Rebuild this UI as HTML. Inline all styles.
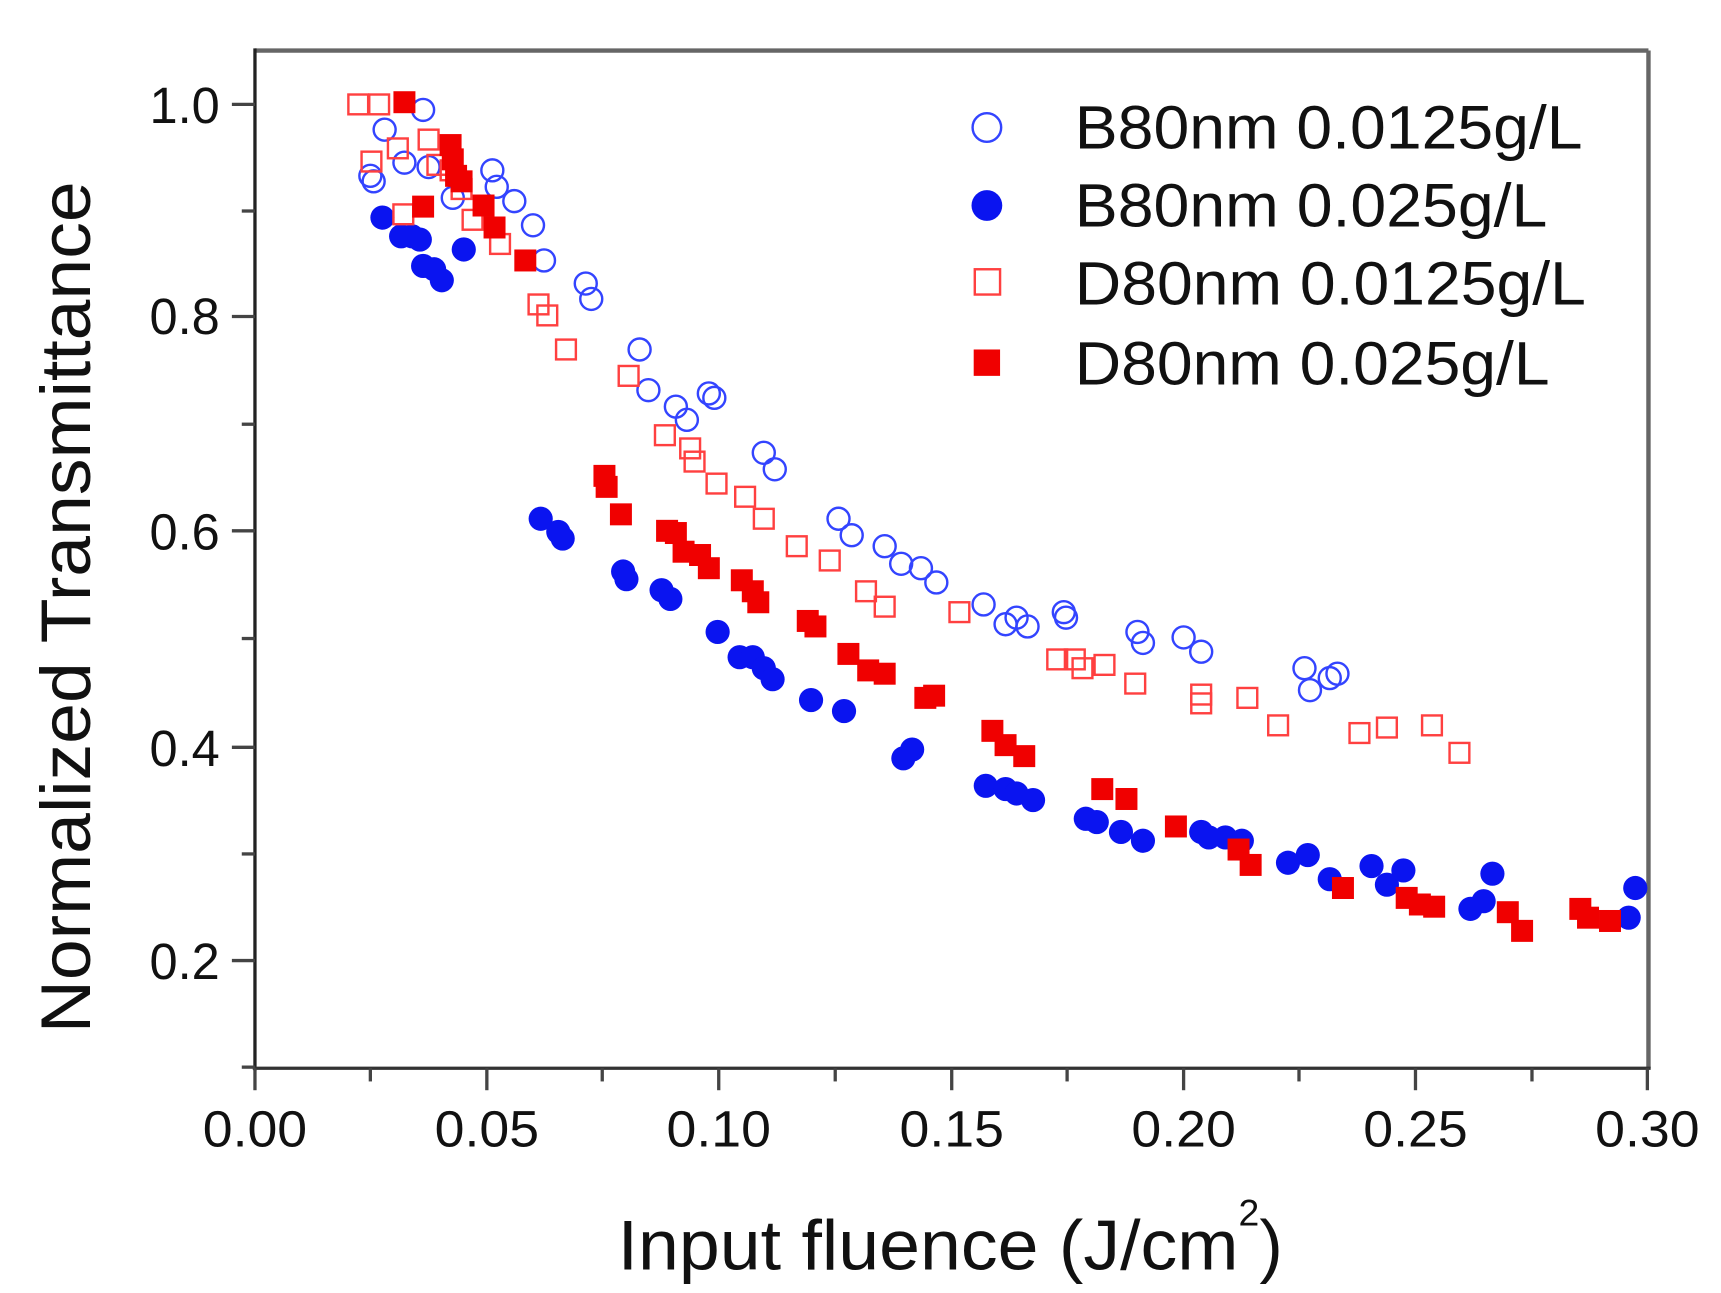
<!DOCTYPE html>
<html><head><meta charset="utf-8"><style>html,body{margin:0;padding:0;background:#fff}svg{display:block}</style></head>
<body>
<svg width="1721" height="1293" viewBox="0 0 1566 1176.5" preserveAspectRatio="none" xmlns="http://www.w3.org/2000/svg" font-family="Liberation Sans, Arial, sans-serif">
<rect width="1566" height="1176.5" fill="#fff"/>
<line x1="232" y1="46" x2="1500" y2="46" stroke="#666" stroke-width="4"/>
<line x1="1500" y1="46" x2="1500" y2="972" stroke="#666" stroke-width="4"/>
<line x1="232" y1="44" x2="232" y2="974" stroke="#222" stroke-width="3"/>
<line x1="230" y1="972" x2="1502" y2="972" stroke="#333" stroke-width="3"/>
<g stroke="#444" stroke-width="3">
<line x1="211" y1="95" x2="232" y2="95"/><line x1="211" y1="288" x2="232" y2="288"/><line x1="211" y1="483" x2="232" y2="483"/><line x1="211" y1="680" x2="232" y2="680"/><line x1="211" y1="874" x2="232" y2="874"/>
<line x1="220" y1="192" x2="232" y2="192"/><line x1="220" y1="386" x2="232" y2="386"/><line x1="220" y1="581" x2="232" y2="581"/><line x1="220" y1="777" x2="232" y2="777"/><line x1="220" y1="971" x2="232" y2="971"/>
<line x1="232" y1="972" x2="232" y2="992"/><line x1="443" y1="972" x2="443" y2="992"/><line x1="654" y1="972" x2="654" y2="992"/><line x1="866" y1="972" x2="866" y2="992"/><line x1="1077" y1="972" x2="1077" y2="992"/><line x1="1288" y1="972" x2="1288" y2="992"/><line x1="1499" y1="972" x2="1499" y2="992"/>
<line x1="337" y1="972" x2="337" y2="984"/><line x1="548" y1="972" x2="548" y2="984"/><line x1="760" y1="972" x2="760" y2="984"/><line x1="971" y1="972" x2="971" y2="984"/><line x1="1182" y1="972" x2="1182" y2="984"/><line x1="1394" y1="972" x2="1394" y2="984"/>
</g>
<g font-size="46" fill="#111" text-anchor="end">
<text x="200" y="112">1.0</text><text x="200" y="304">0.8</text><text x="200" y="500">0.6</text><text x="200" y="697">0.4</text><text x="200" y="891">0.2</text>
</g>
<g font-size="46" fill="#111" text-anchor="middle">
<text x="232" y="1043" textLength="95" lengthAdjust="spacingAndGlyphs">0.00</text>
<text x="443" y="1043" textLength="95" lengthAdjust="spacingAndGlyphs">0.05</text>
<text x="654" y="1043" textLength="95" lengthAdjust="spacingAndGlyphs">0.10</text>
<text x="866" y="1043" textLength="95" lengthAdjust="spacingAndGlyphs">0.15</text>
<text x="1077" y="1043" textLength="95" lengthAdjust="spacingAndGlyphs">0.20</text>
<text x="1288" y="1043" textLength="95" lengthAdjust="spacingAndGlyphs">0.25</text>
<text x="1499" y="1043" textLength="95" lengthAdjust="spacingAndGlyphs">0.30</text>
</g>
<text transform="translate(82,940) rotate(-90)" font-size="64" fill="#111" textLength="775" lengthAdjust="spacingAndGlyphs">Normalized Transmittance</text>
<text x="562" y="1155" font-size="64" fill="#111"><tspan textLength="565" lengthAdjust="spacingAndGlyphs">Input fluence (J/cm</tspan><tspan font-size="34" dy="-40">2</tspan><tspan dy="40">)</tspan></text>
<g fill="none" stroke="#3344ff" stroke-width="2.2">
<circle cx="337" cy="160" r="10"/><circle cx="340" cy="165" r="10"/><circle cx="350" cy="118" r="10"/><circle cx="368" cy="148" r="10"/><circle cx="385" cy="100" r="10"/><circle cx="390" cy="152" r="10"/><circle cx="412" cy="180" r="10"/><circle cx="448" cy="155" r="10"/><circle cx="452" cy="170" r="10"/><circle cx="468" cy="183" r="10"/><circle cx="485" cy="205" r="10"/><circle cx="495" cy="237" r="10"/><circle cx="533" cy="258" r="10"/><circle cx="538" cy="272" r="10"/><circle cx="582" cy="318" r="10"/><circle cx="590" cy="355" r="10"/><circle cx="615" cy="370" r="10"/><circle cx="625" cy="382" r="10"/><circle cx="645" cy="358" r="10"/><circle cx="650" cy="362" r="10"/><circle cx="695" cy="412" r="10"/><circle cx="705" cy="427" r="10"/><circle cx="763" cy="472" r="10"/><circle cx="775" cy="487" r="10"/><circle cx="805" cy="497" r="10"/><circle cx="820" cy="513" r="10"/><circle cx="838" cy="517" r="10"/><circle cx="852" cy="530" r="10"/><circle cx="895" cy="550" r="10"/><circle cx="915" cy="568" r="10"/><circle cx="925" cy="562" r="10"/><circle cx="935" cy="570" r="10"/><circle cx="968" cy="557" r="10"/><circle cx="970" cy="562" r="10"/><circle cx="1035" cy="575" r="10"/><circle cx="1040" cy="585" r="10"/><circle cx="1077" cy="580" r="10"/><circle cx="1093" cy="593" r="10"/><circle cx="1187" cy="608" r="10"/><circle cx="1192" cy="628" r="10"/><circle cx="1210" cy="617" r="10"/><circle cx="1217" cy="613" r="10"/>
<circle cx="898" cy="116" r="13"/>
</g>
<g fill="#0a14f0">
<circle cx="348" cy="198" r="11"/><circle cx="365" cy="215" r="11"/><circle cx="375" cy="215" r="11"/><circle cx="382" cy="218" r="11"/><circle cx="385" cy="242" r="11"/><circle cx="395" cy="245" r="11"/><circle cx="402" cy="255" r="11"/><circle cx="422" cy="227" r="11"/><circle cx="492" cy="472" r="11"/><circle cx="508" cy="484" r="11"/><circle cx="512" cy="490" r="11"/><circle cx="567" cy="520" r="11"/><circle cx="570" cy="527" r="11"/><circle cx="602" cy="537" r="11"/><circle cx="610" cy="545" r="11"/><circle cx="653" cy="575" r="11"/><circle cx="673" cy="598" r="11"/><circle cx="685" cy="598" r="11"/><circle cx="695" cy="608" r="11"/><circle cx="703" cy="618" r="11"/><circle cx="738" cy="637" r="11"/><circle cx="768" cy="647" r="11"/><circle cx="822" cy="690" r="11"/><circle cx="830" cy="682" r="11"/><circle cx="897" cy="715" r="11"/><circle cx="915" cy="718" r="11"/><circle cx="925" cy="722" r="11"/><circle cx="940" cy="728" r="11"/><circle cx="988" cy="745" r="11"/><circle cx="998" cy="748" r="11"/><circle cx="1020" cy="757" r="11"/><circle cx="1040" cy="765" r="11"/><circle cx="1093" cy="757" r="11"/><circle cx="1100" cy="762" r="11"/><circle cx="1115" cy="762" r="11"/><circle cx="1130" cy="765" r="11"/><circle cx="1172" cy="785" r="11"/><circle cx="1190" cy="778" r="11"/><circle cx="1210" cy="800" r="11"/><circle cx="1248" cy="788" r="11"/><circle cx="1262" cy="805" r="11"/><circle cx="1277" cy="792" r="11"/><circle cx="1338" cy="827" r="11"/><circle cx="1350" cy="820" r="11"/><circle cx="1358" cy="795" r="11"/><circle cx="1482" cy="835" r="11"/><circle cx="1488" cy="808" r="11"/>
<circle cx="898" cy="187" r="14"/>
</g>
<g fill="none" stroke="#ff4040" stroke-width="2.2">
<rect x="317" y="86" width="18" height="18"/><rect x="336" y="86" width="18" height="18"/><rect x="329" y="138" width="18" height="18"/><rect x="353" y="126" width="18" height="18"/><rect x="358" y="186" width="18" height="18"/><rect x="381" y="118" width="18" height="18"/><rect x="389" y="141" width="18" height="18"/><rect x="401" y="146" width="18" height="18"/><rect x="411" y="163" width="18" height="18"/><rect x="421" y="191" width="18" height="18"/><rect x="446" y="213" width="18" height="18"/><rect x="481" y="268" width="18" height="18"/><rect x="489" y="278" width="18" height="18"/><rect x="506" y="309" width="18" height="18"/><rect x="563" y="333" width="18" height="18"/><rect x="596" y="387" width="18" height="18"/><rect x="619" y="399" width="18" height="18"/><rect x="623" y="411" width="18" height="18"/><rect x="643" y="431" width="18" height="18"/><rect x="669" y="443" width="18" height="18"/><rect x="686" y="463" width="18" height="18"/><rect x="716" y="488" width="18" height="18"/><rect x="746" y="501" width="18" height="18"/><rect x="779" y="529" width="18" height="18"/><rect x="796" y="543" width="18" height="18"/><rect x="864" y="548" width="18" height="18"/><rect x="953" y="591" width="18" height="18"/><rect x="969" y="591" width="18" height="18"/><rect x="976" y="599" width="18" height="18"/><rect x="996" y="596" width="18" height="18"/><rect x="1024" y="613" width="18" height="18"/><rect x="1084" y="623" width="18" height="18"/><rect x="1084" y="631" width="18" height="18"/><rect x="1126" y="626" width="18" height="18"/><rect x="1154" y="651" width="18" height="18"/><rect x="1228" y="658" width="18" height="18"/><rect x="1253" y="653" width="18" height="18"/><rect x="1294" y="651" width="18" height="18"/><rect x="1319" y="676" width="18" height="18"/>
<rect x="887" y="245" width="23" height="23"/>
</g>
<g fill="#f00000">
<rect x="358" y="83" width="20" height="20"/><rect x="375" y="178" width="20" height="20"/><rect x="400" y="122" width="20" height="20"/><rect x="402" y="135" width="20" height="20"/><rect x="405" y="150" width="20" height="20"/><rect x="410" y="155" width="20" height="20"/><rect x="430" y="177" width="20" height="20"/><rect x="440" y="197" width="20" height="20"/><rect x="468" y="227" width="20" height="20"/><rect x="540" y="423" width="20" height="20"/><rect x="542" y="433" width="20" height="20"/><rect x="555" y="458" width="20" height="20"/><rect x="597" y="473" width="20" height="20"/><rect x="605" y="475" width="20" height="20"/><rect x="612" y="492" width="20" height="20"/><rect x="627" y="495" width="20" height="20"/><rect x="635" y="507" width="20" height="20"/><rect x="665" y="518" width="20" height="20"/><rect x="675" y="528" width="20" height="20"/><rect x="680" y="538" width="20" height="20"/><rect x="725" y="555" width="20" height="20"/><rect x="732" y="560" width="20" height="20"/><rect x="762" y="585" width="20" height="20"/><rect x="780" y="600" width="20" height="20"/><rect x="795" y="603" width="20" height="20"/><rect x="832" y="625" width="20" height="20"/><rect x="840" y="623" width="20" height="20"/><rect x="893" y="655" width="20" height="20"/><rect x="905" y="668" width="20" height="20"/><rect x="922" y="678" width="20" height="20"/><rect x="993" y="708" width="20" height="20"/><rect x="1015" y="717" width="20" height="20"/><rect x="1060" y="742" width="20" height="20"/><rect x="1117" y="763" width="20" height="20"/><rect x="1128" y="777" width="20" height="20"/><rect x="1212" y="798" width="20" height="20"/><rect x="1270" y="807" width="20" height="20"/><rect x="1282" y="813" width="20" height="20"/><rect x="1295" y="815" width="20" height="20"/><rect x="1362" y="820" width="20" height="20"/><rect x="1375" y="837" width="20" height="20"/><rect x="1428" y="817" width="20" height="20"/><rect x="1435" y="825" width="20" height="20"/><rect x="1455" y="828" width="20" height="20"/>
<rect x="886" y="318" width="24" height="24"/>
</g>
<g font-size="56" fill="#111">
<text x="978" y="135" textLength="462" lengthAdjust="spacingAndGlyphs">B80nm 0.0125g/L</text>
<text x="978" y="206" textLength="430" lengthAdjust="spacingAndGlyphs">B80nm 0.025g/L</text>
<text x="978" y="277" textLength="465" lengthAdjust="spacingAndGlyphs">D80nm 0.0125g/L</text>
<text x="978" y="350" textLength="432" lengthAdjust="spacingAndGlyphs">D80nm 0.025g/L</text>
</g>
</svg>
</body></html>
